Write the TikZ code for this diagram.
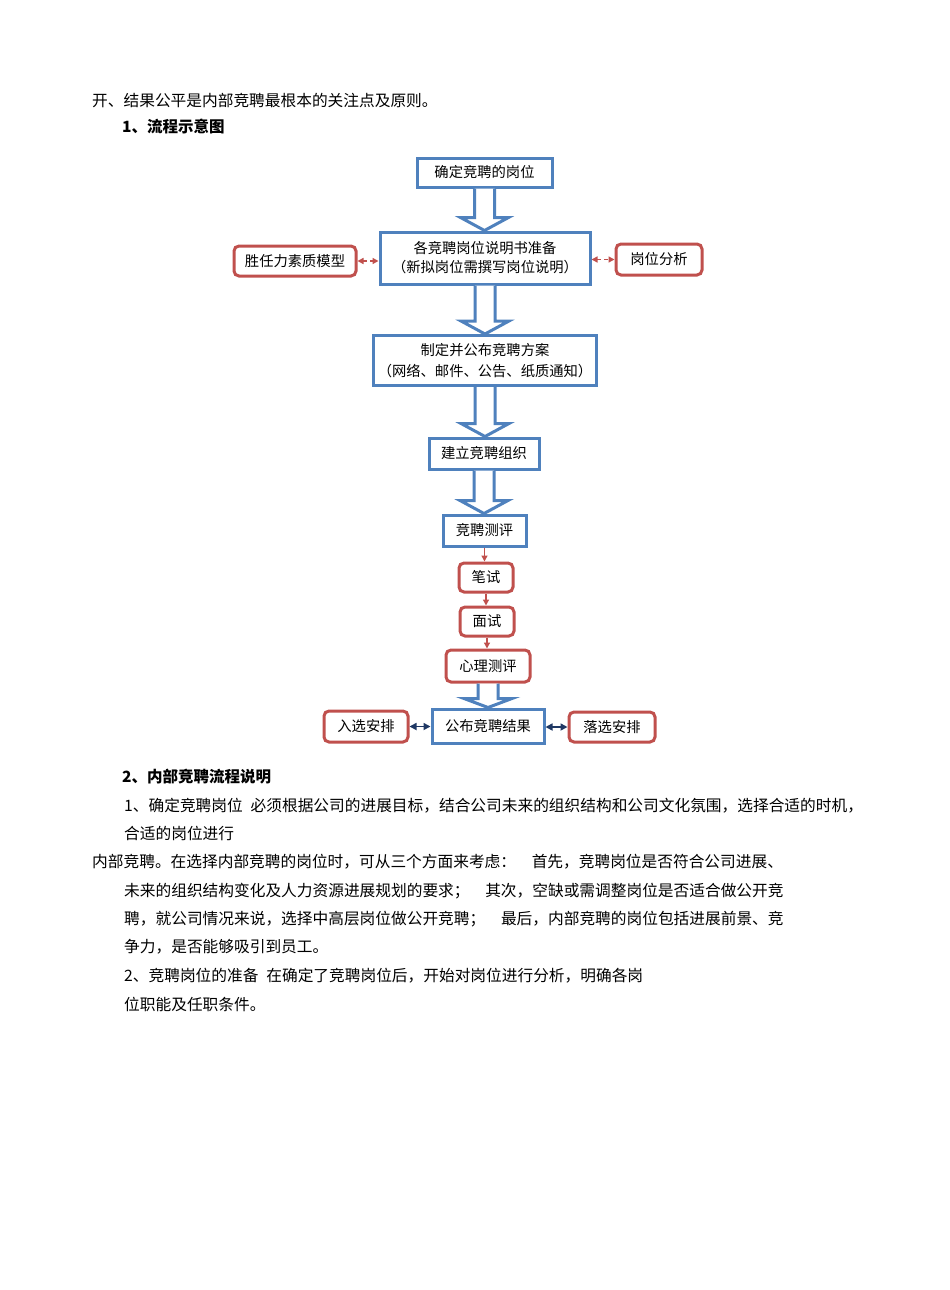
\documentclass[tikz,border=0pt]{standalone}
\usepackage{fontspec}
\setmainfont{Noto Sans CJK SC}
\usetikzlibrary{arrows.meta,calc}
\definecolor{bblue}{RGB}{79,129,189}
\definecolor{rred}{RGB}{192,80,77}
\definecolor{navyc}{RGB}{31,56,100}
\newcommand\sepsp{\hspace{0.5em}}
\newcommand\bigarr[3]{%
  \draw[bigarrow] let \p1=(#1.south), \p2=(#2.north) in
    (\x1-10pt,\y1) -- (\x1-10pt,\y2+#3) -- (\x1-24pt,\y2+#3) -- (\x1,\y2)
    -- (\x1+24pt,\y2+#3) -- (\x1+10pt,\y2+#3) -- (\x1+10pt,\y1);
}
\tikzset{
  bbox/.style={draw=bblue, line width=3pt, fill=white, inner sep=0pt,
    align=center, font=\fontsize{14.3}{19}\selectfont},
  rbox/.style={draw=rred, line width=3pt, fill=white, rounded corners=5pt,
    inner sep=0pt, align=center, font=\fontsize{14.3}{19}\selectfont},
  bigarrow/.style={draw=bblue, line width=3pt, fill=white, line join=miter},
  redarr/.style={draw=rred, line width=1.4pt, -{Triangle[length=6pt,width=6pt]}},
  reddash/.style={draw=rred, line width=1.4pt, dash pattern=on 4pt off 3pt,
    {Triangle[length=6pt,width=6pt]}-{Triangle[length=6pt,width=6pt]}},
  navyarr/.style={draw=navyc, line width=1.6pt,
    {Triangle[length=7pt,width=7pt]}-{Triangle[length=7pt,width=7pt]}},
  txt/.style={anchor=west, inner sep=0pt, font=\fontsize{15.7}{18}\selectfont},
  head/.style={anchor=west, inner sep=0pt, font=\fontsize{15.5}{18}\selectfont\bfseries},
}
\begin{document}
\begin{tikzpicture}[x=1pt,y=-1pt]
\fill[white] (0,0) rectangle (950,1290);
\useasboundingbox (0,0) rectangle (950,1290);

% text above diagram
\node[txt] (t1) at (92,101) {开、结果公平是内部竞聘最根本的关注点及原则。};
\node[head] (h1) at (122,127) {1、流程示意图};

% flowchart boxes
\node[bbox, minimum width=135pt, minimum height=29pt] (b1) at (484.5,172.5) {确定竞聘的岗位};
\node[bbox, minimum width=210pt, minimum height=52pt] (b2) at (485,258) {各竞聘岗位说明书准备\\（新拟岗位需撰写岗位说明）};
\node[bbox, minimum width=223pt, minimum height=50pt, font=\fontsize{14.3}{21}\selectfont] (b3) at (485,360.5) {制定并公布竞聘方案\\（网络、邮件、公告、纸质通知）};
\node[bbox, minimum width=110pt, minimum height=31pt] (b4) at (484,453.5) {建立竞聘组织};
\node[bbox, minimum width=83pt, minimum height=31pt] (b5) at (484.5,530.5) {竞聘测评};
\node[rbox, minimum width=54pt, minimum height=29pt] (p1) at (486,577.5) {笔试};
\node[rbox, minimum width=54pt, minimum height=29pt] (p2) at (487,621.5) {面试};
\node[rbox, minimum width=84pt, minimum height=32pt] (p3) at (488,666) {心理测评};
\node[bbox, minimum width=112pt, minimum height=34pt] (res) at (488,726) {公布竞聘结果};
\node[rbox, minimum width=84pt, minimum height=31pt] (sel) at (366,726.5) {入选安排};
\node[rbox, minimum width=86pt, minimum height=30pt] (rej) at (612,727) {落选安排};
\node[rbox, minimum width=122pt, minimum height=30pt] (comp) at (295,261) {胜任力素质模型};
\node[rbox, minimum width=86pt, minimum height=31pt] (ana) at (659,259.5) {岗位分析};

% big arrows
\bigarr{b1}{b2}{13pt}
\bigarr{b2}{b3}{13pt}
\bigarr{b3}{b4}{13pt}
\bigarr{b4}{b5}{13pt}
\bigarr{p3}{res}{9pt}

% small arrows
\draw[redarr] (b5.south) -- (b5.south |- p1.north);
\draw[redarr] (p1.south) -- (p1.south |- p2.north);
\draw[redarr] (p2.south) -- (p2.south |- p3.north);
\draw[reddash] (comp.east) -- (comp.east -| b2.west);
\draw[reddash] (b2.east |- ana.west) -- (ana.west);
\draw[navyarr] (sel.east) -- (sel.east -| res.west);
\draw[navyarr] (res.east |- rej.west) -- (rej.west);

% text below diagram
\node[head] (h2) at (122,777) {2、内部竞聘流程说明};
\node[txt] (t2) at (124,806) {1、确定竞聘岗位\sepsp 必须根据公司的进展目标，结合公司未来的组织结构和公司文化氛围，选择合适的时机，};
\node[txt] (t3) at (124,833) {合适的岗位进行};
\node[txt] (t4) at (92,862) {内部竞聘。在选择内部竞聘的岗位时，可从三个方面来考虑：\sepsp\sepsp 首先，竞聘岗位是否符合公司进展、};
\node[txt] (t5) at (124,891) {未来的组织结构变化及人力资源进展规划的要求；\sepsp\sepsp 其次，空缺或需调整岗位是否适合做公开竞};
\node[txt] (t6) at (124,919) {聘，就公司情况来说，选择中高层岗位做公开竞聘；\sepsp\sepsp 最后，内部竞聘的岗位包括进展前景、竞};
\node[txt] (t7) at (124,947) {争力，是否能够吸引到员工。};
\node[txt] (t8) at (124,976) {2、竞聘岗位的准备\sepsp 在确定了竞聘岗位后，开始对岗位进行分析，明确各岗};
\node[txt] (t9) at (124,1004) {位职能及任职条件。};
\end{tikzpicture}
\end{document}
